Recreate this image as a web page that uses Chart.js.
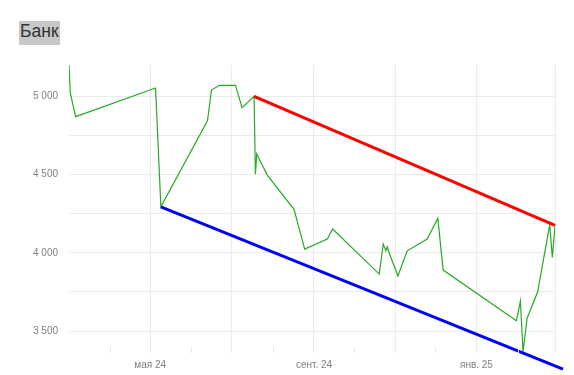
<!DOCTYPE html>
<html>
<head>
<meta charset="utf-8">
<script src="https://cdn.jsdelivr.net/npm/chart.js@4/dist/chart.umd.min.js"></script>
<style>
  html, body { margin: 0; padding: 0; background: #fff; }
  #wrap { position: relative; width: 574px; height: 375px; }
  #title { position: absolute; left: 19px; top: 21px; height: 24px; line-height: 25px;
           padding: 0 1px; background: #c8c8c8; color: #333; font: 17.5px "Liberation Sans", Arial, sans-serif; }
  canvas { position: absolute; left: 0; top: 0; }
</style>
</head>
<body>
<div id="wrap">
  <canvas id="c" width="574" height="375"></canvas>
  <div id="title">Банк</div>
</div>
<script>
// Days counted from 1 March 2024
const priceDays = [0, 1, 5, 65, 69, 104, 107, 113, 125, 130, 139, 140, 141, 149, 169, 177, 194, 198,
                   233, 236, 238, 239, 240, 247, 254, 269, 277, 281, 336, 339, 341, 344, 352, 361, 363, 365];
const bankPrices = [5200, 5020, 4870, 5053, 4294, 4844, 5040, 5070, 5070, 4927, 5000, 4503, 4631, 4495, 4278, 4024, 4088, 4152,
                    3864, 4056, 4013, 4039, 4010, 3852, 4013, 4088, 4220, 3890, 3566, 3692, 3368, 3581, 3751, 4178, 3971, 4172];
const resistanceDays = [139, 365];
const resistanceValues = [5000, 4175];
const supportDays = [69, 371];
const supportValues = [4294, 3257];

const monthDays = [0, 31, 61, 92, 122, 153, 184, 214, 245, 275, 306, 337, 365];
const monthLabels = ['', '', 'мая 24', '', '', '', 'сент. 24', '', '', '', 'янв. 25', '', ''];
const majorMonthDays = [61, 122, 184, 245, 306, 365];
const minorMonthDays = [31, 92, 153, 214, 275, 337];
const yGridValues = [3500, 3750, 4000, 4250, 4500, 4750, 5000];
const yLabelValues = [3500, 4000, 4500, 5000];

const toPoints = (xs, ys) => xs.map((x, i) => ({ x: x, y: ys[i] }));
const fmt = v => String(v).replace(/\B(?=(\d{3})+(?!\d))/g, ' ');

const minorTicks = {
  id: 'minorTicks',
  afterDatasetsDraw(chart) {
    const ctx = chart.ctx, xs = chart.scales.x, b = chart.chartArea.bottom;
    ctx.save();
    ctx.strokeStyle = '#e6e6e6';
    ctx.lineWidth = 1;
    minorMonthDays.forEach(d => {
      const px = Math.round(xs.getPixelForValue(d)) + 0.5;
      ctx.beginPath(); ctx.moveTo(px, b - 6); ctx.lineTo(px, b); ctx.stroke();
    });
    ctx.restore();
  }
};

new Chart(document.getElementById('c'), {
  type: 'line',
  data: {
    datasets: [
      { label: 'Банк', data: toPoints(priceDays, bankPrices), borderColor: '#28a828', borderWidth: 1.2,
        pointRadius: 0, tension: 0, order: 3 },
      { label: 'resistance', data: toPoints(resistanceDays, resistanceValues), borderColor: '#ff0000', borderWidth: 3,
        pointRadius: 0, tension: 0, order: 1, clip: false },
      { label: 'support', data: toPoints(supportDays, supportValues), borderColor: '#0000ff', borderWidth: 3,
        pointRadius: 0, tension: 0, order: 1, clip: false }
    ]
  },
  options: {
    responsive: false,
    animation: false,
    layout: { padding: { top: 65, right: 19, left: 0, bottom: 0 } },
    plugins: { legend: { display: false }, tooltip: { enabled: false }, title: { display: false } },
    scales: {
      x: {
        type: 'linear', min: 0, max: 365,
        afterBuildTicks: s => { s.ticks = monthDays.map(v => ({ value: v })); },
        afterFit: s => { s.height = 22; },
        border: { display: false },
        grid: { drawTicks: false,
                color: c => (c.tick && majorMonthDays.includes(c.tick.value)) ? '#ebebeb' : 'rgba(0,0,0,0)' },
        ticks: { autoSkip: false, maxRotation: 0, padding: 6, color: '#7f7f7f',
                 font: { family: '"Liberation Sans", Arial, sans-serif', size: 10 },
                 callback: (v, i) => monthLabels[monthDays.indexOf(v)] || '' }
      },
      y: {
        min: 3360, max: 5200,
        afterBuildTicks: s => { s.ticks = yGridValues.map(v => ({ value: v })); },
        afterFit: s => { s.width = 69; },
        border: { display: false },
        grid: { drawTicks: false, color: '#ebebeb' },
        ticks: { padding: 11, color: '#7f7f7f',
                 font: { family: '"Liberation Sans", Arial, sans-serif', size: 10 },
                 callback: v => yLabelValues.includes(v) ? fmt(v) : '' }
      }
    }
  },
  plugins: [minorTicks]
});
</script>
</body>
</html>
